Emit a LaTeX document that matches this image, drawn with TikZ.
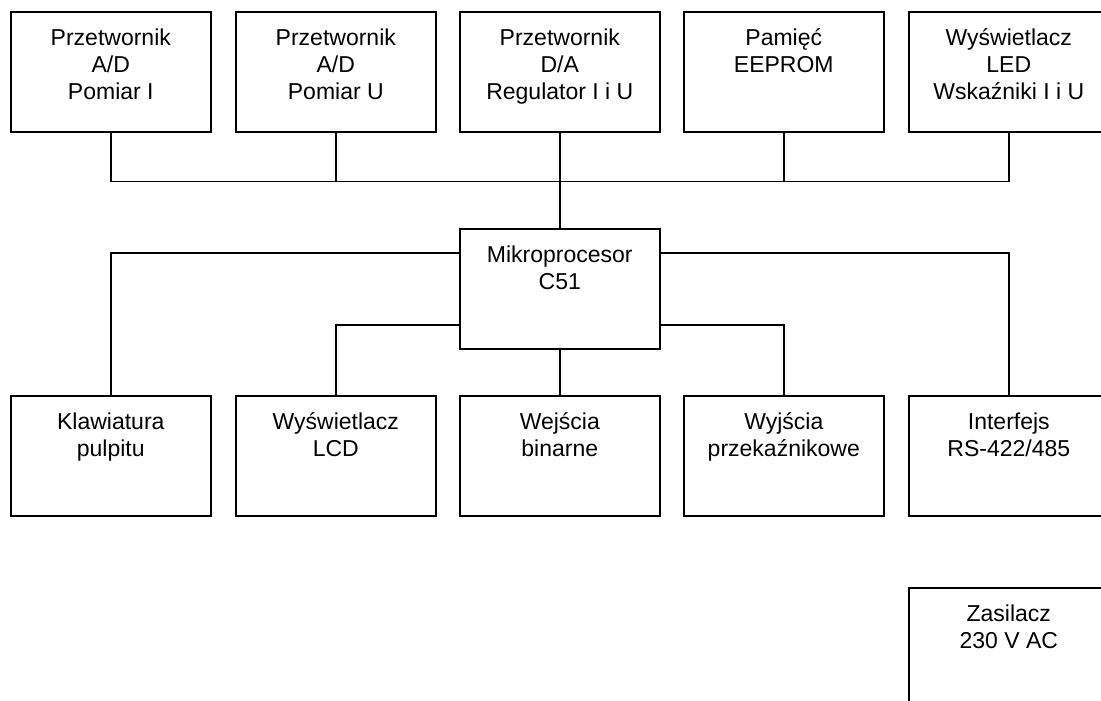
\documentclass[tikz,border=0pt]{standalone}
\usepackage{fontspec}
\setmainfont{Liberation Sans}
\usetikzlibrary{calc}

\newcommand\bloktxt[1]{\begin{tabular}[t]{@{}c@{}}#1\end{tabular}}

\begin{document}
\begin{tikzpicture}[x=1pt,y=-1pt,
  blok/.style={draw,line width=1.6pt,anchor=north west,
    minimum width=200pt,inner xsep=0pt,inner ysep=0pt,
    text height=34pt,text depth=86pt,
    font=\fontsize{23}{27}\selectfont},
  polacz/.style={line width=1.6pt}]
\useasboundingbox (0,0) rectangle (1101,701);
\clip (0,0) rectangle (1101,701);

% gorny rzad
\node[blok] (pa)  at (10,11)  {\bloktxt{Przetwornik\\A/D\\Pomiar I}};
\node[blok] (pu)  at (235,11) {\bloktxt{Przetwornik\\A/D\\Pomiar U}};
\node[blok] (pda) at (459,11) {\bloktxt{Przetwornik\\D/A\\Regulator I i U}};
\node[blok] (eep) at (683,11) {\bloktxt{Pamięć\\EEPROM}};
\node[blok] (led) at (908,11) {\bloktxt{Wyświetlacz\\LED\\Wskaźniki I i U}};

\node[blok] (mikro) at (459,228) {\bloktxt{Mikroprocesor\\C51}};

% dolny rzad
\node[blok] (klaw) at (10,395)  {\bloktxt{Klawiatura\\pulpitu}};
\node[blok] (lcd)  at (235,395) {\bloktxt{Wyświetlacz\\LCD}};
\node[blok] (wej)  at (459,395) {\bloktxt{Wejścia\\binarne}};
\node[blok] (wyj)  at (683,395) {\bloktxt{Wyjścia\\przekaźnikowe}};
\node[blok] (rs)   at (908,395) {\bloktxt{Interfejs\\RS-422/485}};

\node[blok] (zas) at (908,587) {\bloktxt{Zasilacz\\230 V AC}};

% magistrala
\coordinate (busL) at ($(pa.south)+(0,49)$);
\coordinate (busR) at (busL -| led.south);
\draw[polacz] (pa.south) -- (busL) -- (busR) -- (led.south);
\draw[polacz] (pu.south) -- (pu.south |- busL);
\draw[polacz] (eep.south) -- (eep.south |- busL);
\draw[polacz] (pda.south) -- (mikro.north);

\coordinate (mg) at ($(mikro.west)+(0,-36)$);
\coordinate (md) at ($(mikro.west)+(0,36)$);
\draw[polacz] (mg) -| (klaw.north);
\draw[polacz] (mg -| mikro.east) -| (rs.north);
\draw[polacz] (md) -| (lcd.north);
\draw[polacz] (md -| mikro.east) -| (wyj.north);
\draw[polacz] (mikro.south) -- (wej.north);

\end{tikzpicture}
\end{document}
